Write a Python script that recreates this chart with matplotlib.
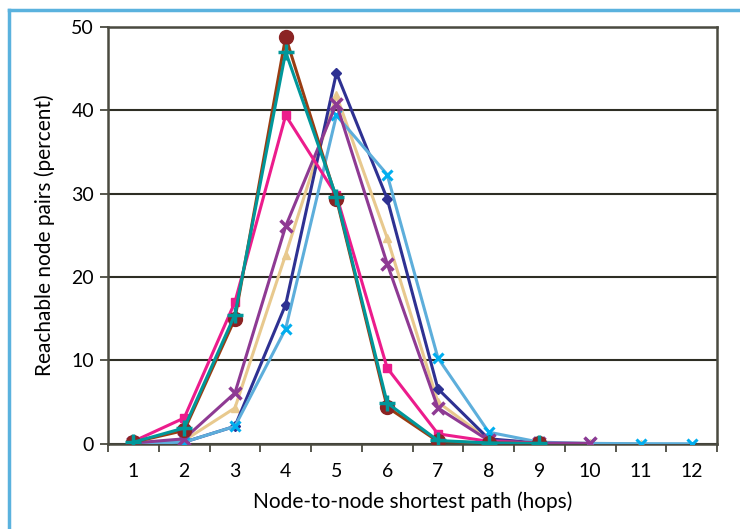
import matplotlib
matplotlib.use("Agg")
import matplotlib.pyplot as plt
from matplotlib.lines import Line2D
from matplotlib.ticker import FixedLocator, NullFormatter

plt.rcParams['font.family'] = ['Lato', 'DejaVu Sans']

# Hops on the x axis
hops = [1, 2, 3, 4, 5, 6, 7, 8, 9, 10, 11, 12]

# Reachable node pairs (percent) for each network
brown_circle = [0.2, 1.6, 15.0, 48.8, 29.4, 4.4, 0.3, 0.1, 0.05]
teal_plus = [0.2, 1.9, 15.5, 47.0, 29.6, 4.9, 0.4, 0.1, 0.05]
pink_square = [0.3, 3.1, 17.0, 39.4, 29.8, 9.1, 1.2, 0.3, 0.05]
purple_x = [0.1, 0.6, 6.1, 26.1, 40.8, 21.6, 4.3, 0.4, 0.1, 0.05]
tan_triangle = [0.1, 0.4, 4.3, 22.7, 41.8, 24.7, 5.0, 0.5, 0.1, 0.05, 0.02]
navy_diamond = [0.05, 0.2, 2.1, 16.7, 44.5, 29.4, 6.6, 0.6, 0.1]
lightblue_x = [0.05, 0.2, 2.1, 13.8, 39.4, 32.3, 10.3, 1.4, 0.2, 0.05, 0.02, 0.01]

yticks = [0, 10, 20, 30, 40, 50]

fig = plt.figure(figsize=(7.4, 5.29), dpi=100)
ax = fig.add_axes([0.146, 0.161, 0.823, 0.788])

# (values, line colour, marker, marker colour, marker size, marker edge width)
series = [
    (tan_triangle, "#E8C98E", "^", "#E8C98E", 6, 1),
    (navy_diamond, "#2E3192", "D", "#2E3192", 5, 1),
    (lightblue_x, "#5DAEDB", "x", "#00AEEF", 7, 2.2),
    (purple_x, "#8E3A93", "x", "#8E3A93", 9, 2.5),
    (pink_square, "#EC1C8C", "s", "#EC1C8C", 6, 1),
    (brown_circle, "#993D12", "o", "#8B2323", 10, 1),
    (teal_plus, "#00979A", "+", "#00979A", 11, 2.5),
]
for vals, lc, mk, mc, ms, mew in series:
    ax.plot(hops[:len(vals)], vals, color=lc, lw=2.2, marker=mk,
            markersize=ms, markerfacecolor=mc, markeredgecolor=mc,
            markeredgewidth=mew, zorder=3)

frame = "#4A4A40"
ax.set_xlim(0.5, 12.5)
ax.set_ylim(0, 50)
ax.set_yticks(yticks)
ax.yaxis.grid(True, color="#2E2E24", lw=1.5)
ax.set_axisbelow(True)

ax.set_xticks(hops)
ax.xaxis.set_minor_locator(FixedLocator([h - 0.5 for h in hops] + [12.5]))
ax.xaxis.set_minor_formatter(NullFormatter())
ax.tick_params(axis="x", which="major", length=0, pad=14, labelsize=14)
ax.tick_params(axis="x", which="minor", length=6, width=1.3, color=frame,
               direction="out")
ax.tick_params(axis="y", length=6, width=1.3, color=frame, labelsize=14, pad=4)

for s in ax.spines.values():
    s.set_color(frame)
    s.set_linewidth(1.8)

ax.set_xlabel("Node-to-node shortest path (hops)", fontsize=15, labelpad=8)
ax.set_ylabel("Reachable node pairs (percent)", fontsize=15, labelpad=12)

# light blue frame around the figure (top and left edges)
fig.add_artist(Line2D([0.012, 1.0], [0.981, 0.981], color="#5AB2DE", lw=2.5,
                      transform=fig.transFigure))
fig.add_artist(Line2D([0.012, 0.012], [0.0, 0.981], color="#5AB2DE", lw=2.5,
                      transform=fig.transFigure))

fig.savefig("out.png", dpi=100)
